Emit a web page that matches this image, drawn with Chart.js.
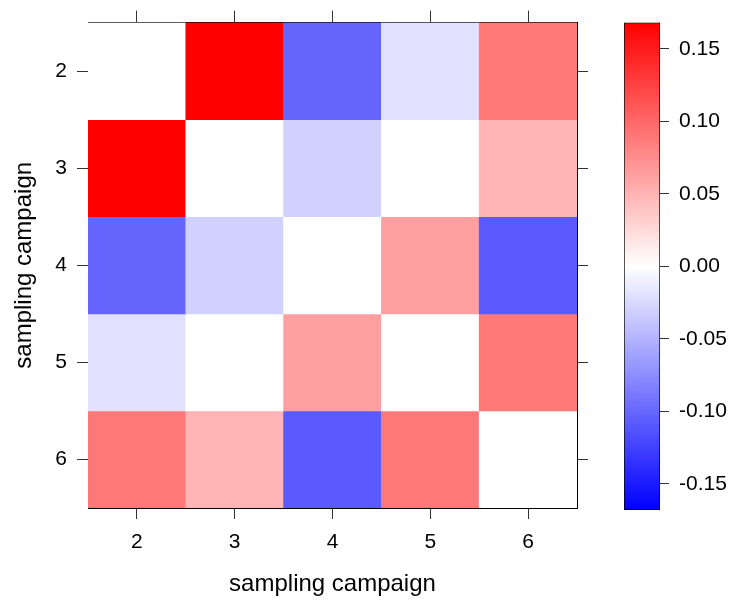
<!DOCTYPE html>
<html><head><meta charset="utf-8">
<script src="https://cdn.jsdelivr.net/npm/chart.js@4/dist/chart.umd.min.js"></script>
<style>
html,body{margin:0;padding:0;background:#fff;}
#wrap{position:relative;width:731px;height:604px;overflow:hidden;}
canvas{position:absolute;top:0;}
</style></head><body>
<div id="wrap">
<canvas id="heat" width="600" height="604" style="left:0"></canvas>
<canvas id="key" width="131" height="604" style="left:600px"></canvas>
</div>
<script>
// ---- data ----
const campaigns = ['2', '3', '4', '5', '6'];       // column categories (x)
const rowCampaigns = [2, 3, 4, 5, 6];               // row positions (y)
const row2 = [0.000, 0.168, -0.101, -0.020, 0.089];
const row3 = [0.168, 0.000, -0.030, 0.000, 0.049];
const row4 = [-0.101, -0.030, 0.000, 0.063, -0.109];
const row5 = [-0.020, 0.000, 0.063, 0.000, 0.089];
const row6 = [0.089, 0.049, -0.109, 0.089, 0.000];
const rows = [row2, row3, row4, row5, row6];
const keyTicks = [-0.15, -0.10, -0.05, 0.00, 0.05, 0.10, 0.15];
const keyLimit = 0.168;
const axisTitle = 'sampling campaign';

const FONT = 'Liberation Sans, Arial, Helvetica, sans-serif';
Chart.defaults.font.family = FONT;
Chart.defaults.color = '#000';

function colorFor(v) {
  let t = Math.max(-1, Math.min(1, v / keyLimit));
  if (t >= 0) {
    const c = Math.round(255 * (1 - t));
    return `rgb(255,${c},${c})`;
  } else {
    const c = Math.round(255 * (1 + t));
    return `rgb(${c},${c},255)`;
  }
}

const datasets = rows.map((row, i) => ({
  label: 'row ' + rowCampaigns[i],
  data: row.map(() => [rowCampaigns[i] - 0.5, rowCampaigns[i] + 0.5]),
  backgroundColor: row.map(colorFor),
  borderWidth: 0,
  grouped: false,
  barPercentage: 1,
  categoryPercentage: 1
}));

const tickGrid = { drawOnChartArea: false, drawTicks: true, tickLength: 11, color: '#333', tickWidth: 1 };
const frame = { display: true, color: '#000', width: 1 };
const tickFont = { size: 21 };
const titleFont = { size: 24 };

new Chart(document.getElementById('heat'), {
  type: 'bar',
  data: { labels: campaigns, datasets },
  options: {
    responsive: false, animation: false, devicePixelRatio: 1, events: [],
    plugins: { legend: { display: false }, tooltip: { enabled: false } },
    layout: { padding: 0 },
    scales: {
      x: {
        type: 'category', position: 'bottom', offset: true, z: 1,
        grid: Object.assign({ offset: false }, tickGrid),
        border: frame,
        ticks: { font: tickFont, color: '#000', padding: 11, maxRotation: 0 },
        title: { display: true, text: axisTitle, font: titleFont, color: '#000', padding: { top: 0, bottom: 5 } },
        afterFit(s) { s.height = 96; }
      },
      x2: {
        type: 'category', position: 'top', labels: campaigns, offset: true, z: 1,
        grid: Object.assign({ offset: false }, tickGrid, { tickLength: 12 }),
        border: frame,
        ticks: { display: false },
        afterFit(s) { s.height = 19; }
      },
      y: {
        type: 'linear', position: 'left', reverse: true, min: 1.5, max: 6.5, z: 1,
        afterBuildTicks(s) { s.ticks = rowCampaigns.map(v => ({ value: v })); },
        grid: tickGrid, border: frame,
        ticks: { font: tickFont, color: '#000', padding: 10, callback: v => String(v) },
        title: { display: true, text: axisTitle, font: titleFont, color: '#000', padding: { top: 10, bottom: 0 } },
        afterFit(s) { s.width = 88; }
      },
      y2: {
        type: 'linear', position: 'right', reverse: true, min: 1.5, max: 6.5, z: 1,
        afterBuildTicks(s) { s.ticks = rowCampaigns.map(v => ({ value: v })); },
        grid: tickGrid, border: frame,
        ticks: { display: false },
        afterFit(s) { s.width = 23; }
      }
    }
  }
});

new Chart(document.getElementById('key'), {
  type: 'bar',
  data: {
    labels: [''],
    datasets: [{
      data: [[-keyLimit, keyLimit]],
      backgroundColor(c) {
        const chart = c.chart; const ys = chart.scales.y;
        if (!chart.chartArea || !ys) return '#fff';
        const g = chart.ctx.createLinearGradient(0, ys.getPixelForValue(-keyLimit), 0, ys.getPixelForValue(keyLimit));
        g.addColorStop(0, 'rgb(0,0,255)');
        g.addColorStop(0.5, 'rgb(255,255,255)');
        g.addColorStop(1, 'rgb(255,0,0)');
        return g;
      },
      borderColor: '#000', borderWidth: 1, borderSkipped: false,
      barPercentage: 1, categoryPercentage: 1
    }]
  },
  options: {
    responsive: false, animation: false, devicePixelRatio: 1, events: [],
    plugins: { legend: { display: false }, tooltip: { enabled: false } },
    layout: { padding: { left: 24, top: 19, bottom: 94, right: 0 } },
    scales: {
      x: { display: false, offset: true },
      y: {
        type: 'linear', position: 'right', min: -keyLimit, max: keyLimit,
        afterBuildTicks(s) { s.ticks = keyTicks.map(v => ({ value: v })); },
        grid: { drawOnChartArea: false, drawTicks: true, tickLength: 9, color: '#333' },
        border: { display: false },
        ticks: { font: tickFont, color: '#000', padding: 10, callback: v => Number(v).toFixed(2) },
        afterFit(s) { s.width = 71; }
      }
    }
  }
});
</script>
</body></html>
